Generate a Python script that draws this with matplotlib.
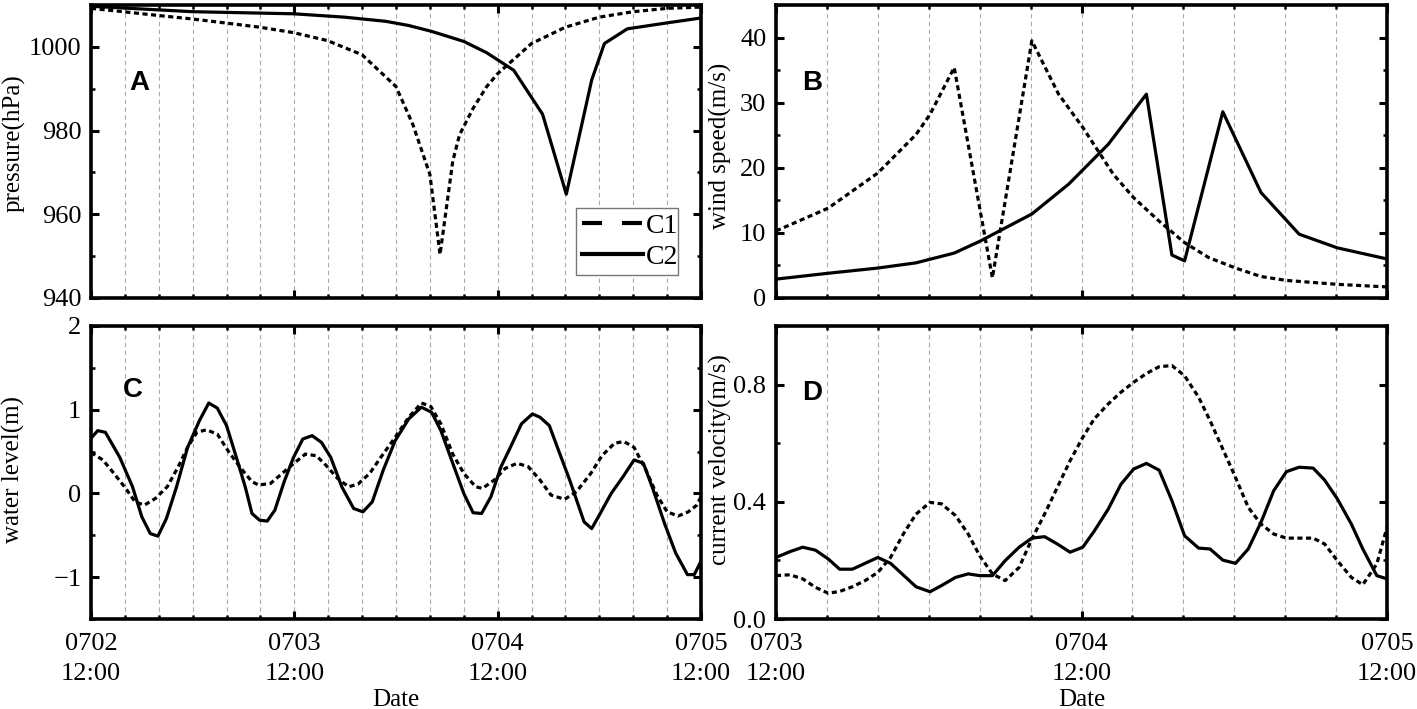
import matplotlib
matplotlib.use("Agg")
import matplotlib.pyplot as plt
from matplotlib.ticker import MultipleLocator, FixedLocator
from matplotlib.lines import Line2D

plt.rcParams['font.family'] = ['Liberation Serif', 'DejaVu Serif']

# ---- data (hours after the left edge of each panel) ----
# A: pressure, x = hours from 0702 12:00
p_c1_h = [0, 3.8, 7.9, 11.8, 15.9, 19.9, 23.9, 27.9, 32, 34.8, 36, 38, 40, 41.2,
          42.7, 43.5, 45.1, 46.7, 48, 52, 56, 60, 64, 68, 72]
p_c1 = [1009.2, 1008.4, 1007.5, 1006.7, 1005.7, 1004.7, 1003.4, 1001.5, 998.1, 992.8,
        990.5, 981.4, 969.5, 950.4, 972.7, 979, 985.3, 990.5, 993.6, 1000.8, 1004.7,
        1007.1, 1008.4, 1009.2, 1009.5]
p_c2_h = [0, 12, 23.9, 29.9, 34.8, 37.5, 40.2, 44, 46.7, 49.9, 53.3, 56.1, 59.1,
          60.6, 63.3, 67.9, 72]
p_c2 = [1009.7, 1008.4, 1007.9, 1007.1, 1006.1, 1005.1, 1003.7, 1001.3, 998.6, 994.4,
        983.9, 964.8, 992.1, 1000.8, 1004.3, 1005.7, 1006.9]

# B: wind speed, x = hours from 0703 12:00
w_c1_h = [0, 4.1, 8, 11, 12.1, 14, 17, 20.1, 22.2, 24.1, 26.5, 28.1, 30.1, 32.1,
          34, 36.1, 38.1, 40.1, 44.1, 48]
w_c1 = [10.3, 13.8, 19.2, 25.1, 28.2, 35.4, 3.1, 39.5, 31.3, 26.2, 19, 15.4, 11.8,
        8.5, 6.2, 4.6, 3.3, 2.7, 2.1, 1.7]
w_c2_h = [0, 4.1, 8, 11, 14, 16, 20.1, 23, 26.1, 29.1, 31.1, 32.1, 35.1, 38.1,
          41.1, 44.1, 48]
w_c2 = [2.9, 3.8, 4.6, 5.4, 6.9, 8.7, 12.9, 17.5, 23.6, 31.3, 6.6, 5.7, 28.6, 16.2,
        9.8, 7.7, 6.0]

# C: water level, x = hours from 0702 12:00
z_c1_h = [0, 1.4, 2.7, 4.1, 5.2, 6.3, 7.6, 9, 10.3, 11.4, 12.5, 13.6, 14.9, 16.3,
          17.7, 19, 19.8, 21.2, 22.8, 24.2, 25.3, 26.6, 27.7, 29.1, 30.4, 31.5, 32.9,
          34.2, 35.9, 37.5, 39, 40.1, 41.3, 42.7, 44, 45.4, 46.2, 47.6, 48.9, 50.3,
          51.6, 53, 54.3, 55.9, 57.3, 59, 60.3, 61.8, 62.9, 64.1, 65.5, 66.8, 68,
          69.3, 70.5, 71.5, 72]
z_c1 = [0.49, 0.40, 0.24, 0.06, -0.10, -0.14, -0.06, 0.08, 0.32, 0.55, 0.73, 0.76,
        0.71, 0.49, 0.30, 0.14, 0.10, 0.12, 0.26, 0.38, 0.47, 0.45, 0.34, 0.18, 0.08,
        0.11, 0.24, 0.43, 0.67, 0.91, 1.08, 1.04, 0.83, 0.47, 0.24, 0.08, 0.06, 0.16,
        0.30, 0.36, 0.32, 0.16, -0.02, -0.07, 0.02, 0.24, 0.45, 0.60, 0.62, 0.55,
        0.28, -0.02, -0.22, -0.27, -0.22, -0.14, -0.04]
z_c2_h = [0, 0.8, 1.7, 3.4, 4.9, 6, 7, 7.9, 8.9, 10.1, 11.4, 12.8, 13.9, 14.9, 16,
          17.1, 18.2, 19, 19.9, 20.8, 21.7, 22.8, 23.9, 25, 26.1, 27.2, 28.3, 29.6,
          31, 32.1, 33.2, 34.5, 35.9, 37.5, 39, 40.2, 41.3, 42.7, 44, 45.1, 46.1,
          47.2, 48.4, 49.5, 50.8, 52.1, 53, 54.1, 55.2, 56.5, 58.2, 59.1, 60.1, 61.4,
          62.8, 64.1, 65.2, 66.3, 67.7, 69, 70.4, 71.2, 72]
z_c2 = [0.66, 0.75, 0.73, 0.43, 0.08, -0.28, -0.48, -0.51, -0.30, 0.08, 0.55, 0.87,
        1.08, 1.02, 0.81, 0.45, 0.08, -0.24, -0.32, -0.33, -0.20, 0.14, 0.43, 0.65,
        0.69, 0.61, 0.43, 0.08, -0.18, -0.22, -0.10, 0.28, 0.63, 0.89, 1.03, 0.97,
        0.75, 0.36, 0.0, -0.23, -0.24, -0.04, 0.32, 0.55, 0.83, 0.95, 0.91, 0.81,
        0.51, 0.16, -0.34, -0.42, -0.24, 0.0, 0.20, 0.40, 0.36, 0.06, -0.36, -0.71,
        -0.97, -0.97, -0.81]

# D: current velocity, x = hours from 0703 12:00
v_h = [0, 1.1, 2.1, 3.1, 4.1, 5, 6, 7, 8, 9, 10, 11, 12.1, 13, 14.1, 15.1, 16, 17,
       18, 19.1, 20.1, 21.1, 22.1, 23.1, 24.1, 25, 26.1, 27.1, 28.1, 29.1, 30.1,
       31.1, 32.1, 33.2, 34.1, 35.1, 36.1, 37.1, 38.1, 39.1, 40.1, 41.1, 42.2, 43.1,
       44.1, 45.2, 46.1, 47.2, 48]
v_c1 = [0.148, 0.151, 0.137, 0.108, 0.088, 0.094, 0.11, 0.131, 0.159, 0.21, 0.29,
        0.358, 0.398, 0.393, 0.353, 0.29, 0.216, 0.154, 0.131, 0.176, 0.273, 0.358,
        0.449, 0.54, 0.62, 0.683, 0.734, 0.774, 0.808, 0.838, 0.861, 0.865, 0.83,
        0.757, 0.677, 0.58, 0.483, 0.381, 0.324, 0.29, 0.276, 0.276, 0.276, 0.256,
        0.199, 0.142, 0.117, 0.188, 0.313]
v_c2 = [0.21, 0.23, 0.245, 0.235, 0.205, 0.17, 0.17, 0.19, 0.21, 0.19, 0.15, 0.11,
        0.093, 0.114, 0.142, 0.154, 0.148, 0.148, 0.199, 0.245, 0.276, 0.281, 0.256,
        0.228, 0.245, 0.30, 0.375, 0.46, 0.512, 0.531, 0.508, 0.404, 0.284, 0.242,
        0.239, 0.201, 0.19, 0.239, 0.33, 0.438, 0.503, 0.518, 0.515, 0.474, 0.41,
        0.324, 0.239, 0.148, 0.137]

left_ticks = ['0702\n12:00', '0703\n12:00', '0704\n12:00', '0705\n12:00']
right_ticks = ['0703\n12:00', '0704\n12:00', '0705\n12:00']

dot = (0, (1.6, 1.1))
lw = 2.3
fs = 19
lab_fs = 18

fig = plt.figure(figsize=(14.17, 7.09), dpi=100)
W, H = 1417, 709
def box(l, r, t, b):
    return [l / W, 1 - b / H, (r - l) / W, (b - t) / H]

axA = fig.add_axes(box(91, 701, 5, 298))
axB = fig.add_axes(box(776, 1387, 5, 298))
axC = fig.add_axes(box(91, 701, 326, 619))
axD = fig.add_axes(box(776, 1387, 326, 619))

def style(ax, span, labels, show_labels):
    ax.set_xlim(0, span)
    ax.xaxis.set_major_locator(FixedLocator(range(0, span + 1, 24)))
    ax.xaxis.set_minor_locator(MultipleLocator(4))
    ax.set_xticklabels(labels if show_labels else [])
    ax.grid(True, which='both', axis='x', color='#aaaaaa', ls=(0, (4, 3)), lw=0.8)
    ax.tick_params(which='both', direction='in', top=True, right=True, labelsize=fs)
    ax.tick_params(which='major', length=6, width=2.2, pad=7)
    ax.tick_params(which='minor', length=3, width=1.8)
    ax.tick_params(axis='x', which='major', pad=10)
    for s in ax.spines.values():
        s.set_linewidth(2.6)
    for t in ax.get_xticklabels():
        t.set_linespacing(1.45)

# A
axA.plot(p_c1_h, p_c1, color='black', lw=lw, ls=dot)
axA.plot(p_c2_h, p_c2, color='black', lw=lw)
style(axA, 72, left_ticks, False)
axA.set_ylim(940, 1010)
axA.yaxis.set_major_locator(MultipleLocator(20))
axA.yaxis.set_minor_locator(MultipleLocator(10))
axA.set_ylabel('pressure(hPa)', fontsize=lab_fs)
handles = [Line2D([], [], color='black', lw=3, ls=(0, (4.8, 4.8))),
           Line2D([], [], color='black', lw=3)]
leg = axA.legend(handles, ['C1', 'C2'], loc='lower left', bbox_to_anchor=(0.795, 0.078, 0.167, 0.236),
                 mode='expand', fontsize=20, fancybox=False, framealpha=1, edgecolor='#777777',
                 handlelength=2.2, handletextpad=0.1, borderpad=0.2, labelspacing=0.2,
                 borderaxespad=0)
leg.get_frame().set_linewidth(1.0)

# B
axB.plot(w_c1_h, w_c1, color='black', lw=lw, ls=dot)
axB.plot(w_c2_h, w_c2, color='black', lw=lw)
style(axB, 48, right_ticks, False)
axB.set_ylim(0, 45)
axB.yaxis.set_major_locator(MultipleLocator(10))
axB.yaxis.set_minor_locator(MultipleLocator(5))
axB.set_ylabel('wind speed(m/s)', fontsize=lab_fs)

# C
axC.plot(z_c1_h, z_c1, color='black', lw=lw, ls=dot)
axC.plot(z_c2_h, z_c2, color='black', lw=lw)
style(axC, 72, left_ticks, True)
axC.set_ylim(-1.5, 2)
axC.yaxis.set_major_locator(MultipleLocator(1))
axC.yaxis.set_minor_locator(MultipleLocator(0.5))
axC.set_ylabel('water level(m)', fontsize=lab_fs)
axC.set_xlabel('Date', fontsize=18, labelpad=3)

# D
axD.plot(v_h, v_c1, color='black', lw=lw, ls=dot)
axD.plot(v_h, v_c2, color='black', lw=lw)
style(axD, 48, right_ticks, True)
axD.set_ylim(0, 1.0)
axD.set_yticks([0.0, 0.4, 0.8])
axD.set_yticklabels(['0.0', '0.4', '0.8'])
axD.yaxis.set_minor_locator(MultipleLocator(0.2))
axD.set_ylabel('current velocity(m/s)', fontsize=lab_fs)
axD.set_xlabel('Date', fontsize=18, labelpad=3)

axA.yaxis.set_label_coords(-0.108, 0.53)
axC.yaxis.set_label_coords(-0.108, 0.51)
axB.yaxis.set_label_coords(-0.072, 0.52)
axD.yaxis.set_label_coords(-0.072, 0.545)

letters = [(axA, 'A', 0.079, 0.733), (axB, 'B', 0.059, 0.735),
           (axC, 'C', 0.069, 0.78), (axD, 'D', 0.059, 0.773)]
for ax, s, x, y in letters:
    ax.text(x, y, s, transform=ax.transAxes, fontsize=20, fontweight='bold',
            family='Liberation Sans', ha='center', va='center')

fig.savefig('out.png', dpi=100)
